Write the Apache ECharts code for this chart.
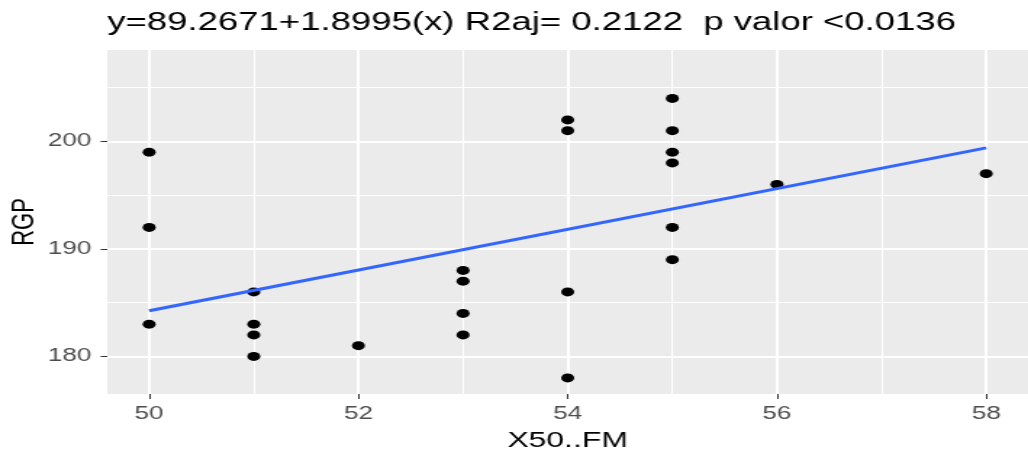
<!DOCTYPE html>
<html lang="es">
<head>
  <meta charset="UTF-8">
  <title>RGP vs X50..FM</title>
  <style>
    html, body { margin: 0; padding: 0; overflow: hidden; background: #fff; }
    /* the reference is stretched sideways, so draw narrow and stretch the box */
    #myChart {
      width: 709px;
      height: 452px;
      transform: scaleX(1.45);
      transform-origin: 0 0;
    }
  </style>
  <script src="https://cdn.jsdelivr.net/npm/echarts@6/dist/echarts.min.js"></script>
</head>
<body>
<div id="myChart"></div>
<script>
// data
var xValues = [50, 50, 50, 51, 51, 51, 51, 52, 53, 53, 53, 53, 54, 54, 54, 54, 55, 55, 55, 55, 55, 55, 56, 58];
var rgpValues = [199, 192, 183, 186, 183, 182, 180, 181, 188, 187, 184, 182, 202, 201, 186, 178, 204, 201, 199, 198, 192, 189, 196, 197];
var fitX = [50, 58];
var fitY = [184.25, 199.4];
var xTicks = [50, 52, 54, 56, 58];
var xMinor = [51, 53, 55, 57];
var yTicks = [180, 190, 200];
var yMinor = [185, 195, 205];
var titleText = 'y=89.2671+1.8995(x) R2aj= 0.2122  p valor <0.0136';

var points = xValues.map(function (x, i) { return [x, rgpValues[i]]; });
var fitLine = fitX.map(function (x, i) { return [x, fitY[i]]; });

// white panel lines, minor ones thinner
function gridLines(vals, key, width) {
  return vals.map(function (v) {
    var d = { lineStyle: { color: '#fff', width: width, type: 'solid' } };
    d[key] = v;
    return d;
  });
}

var font = 'Liberation Sans, Arial, sans-serif';
var myChart = echarts.init(document.getElementById('myChart'));

var option = {
  animation: false,
  title: {
    text: titleText,
    left: 74,
    top: 11,
    padding: 0,
    textStyle: { fontFamily: font, fontSize: 25.2, fontWeight: 'normal', color: '#000' }
  },
  grid: {
    left: 74, right: 0, top: 50, bottom: 58,
    outerBoundsMode: 'none',
    containLabel: false,
    show: true, backgroundColor: '#EBEBEB', borderWidth: 0
  },
  xAxis: {
    type: 'value',
    min: 49.6, max: 58.4,
    name: 'X50..FM',
    nameLocation: 'middle',
    nameGap: 36,
    nameMoveOverlap: false,
    nameTextStyle: { fontFamily: font, fontSize: 22, color: '#000' },
    axisLine: { show: false },
    axisTick: { show: true, customValues: xTicks, length: 5, lineStyle: { color: '#333', width: 1 } },
    axisLabel: { customValues: xTicks, margin: 11, fontFamily: font, fontSize: 18, color: '#4D4D4D' },
    splitLine: { show: false }
  },
  yAxis: {
    type: 'value',
    min: 176.5, max: 208.5,
    name: 'RGP',
    nameLocation: 'middle',
    nameGap: 46,
    nameMoveOverlap: false,
    nameTextStyle: { fontFamily: font, fontSize: 22, color: '#000' },
    axisLine: { show: false },
    axisTick: { show: true, customValues: yTicks, length: 4.6, lineStyle: { color: '#333', width: 1 } },
    axisLabel: { customValues: yTicks, margin: 11, fontFamily: font, fontSize: 18, color: '#4D4D4D' },
    splitLine: { show: false }
  },
  series: [
    {
      type: 'line',
      data: [],
      silent: true,
      z: 0,
      markLine: {
        silent: true,
        z: 1,
        symbol: 'none',
        label: { show: false },
        animation: false,
        data: []
          .concat(gridLines(xMinor, 'xAxis', 1))
          .concat(gridLines(yMinor, 'yAxis', 1))
          .concat(gridLines(xTicks, 'xAxis', 2))
          .concat(gridLines(yTicks, 'yAxis', 2))
      }
    },
    {
      type: 'scatter',
      data: points,
      symbol: 'circle',
      symbolSize: 9,
      itemStyle: { color: '#000', opacity: 1 },
      z: 3
    },
    {
      type: 'line',
      data: fitLine,
      showSymbol: false,
      lineStyle: { color: '#3366FF', width: 3 },
      z: 4
    }
  ]
};
myChart.setOption(option);
</script>
</body>
</html>
